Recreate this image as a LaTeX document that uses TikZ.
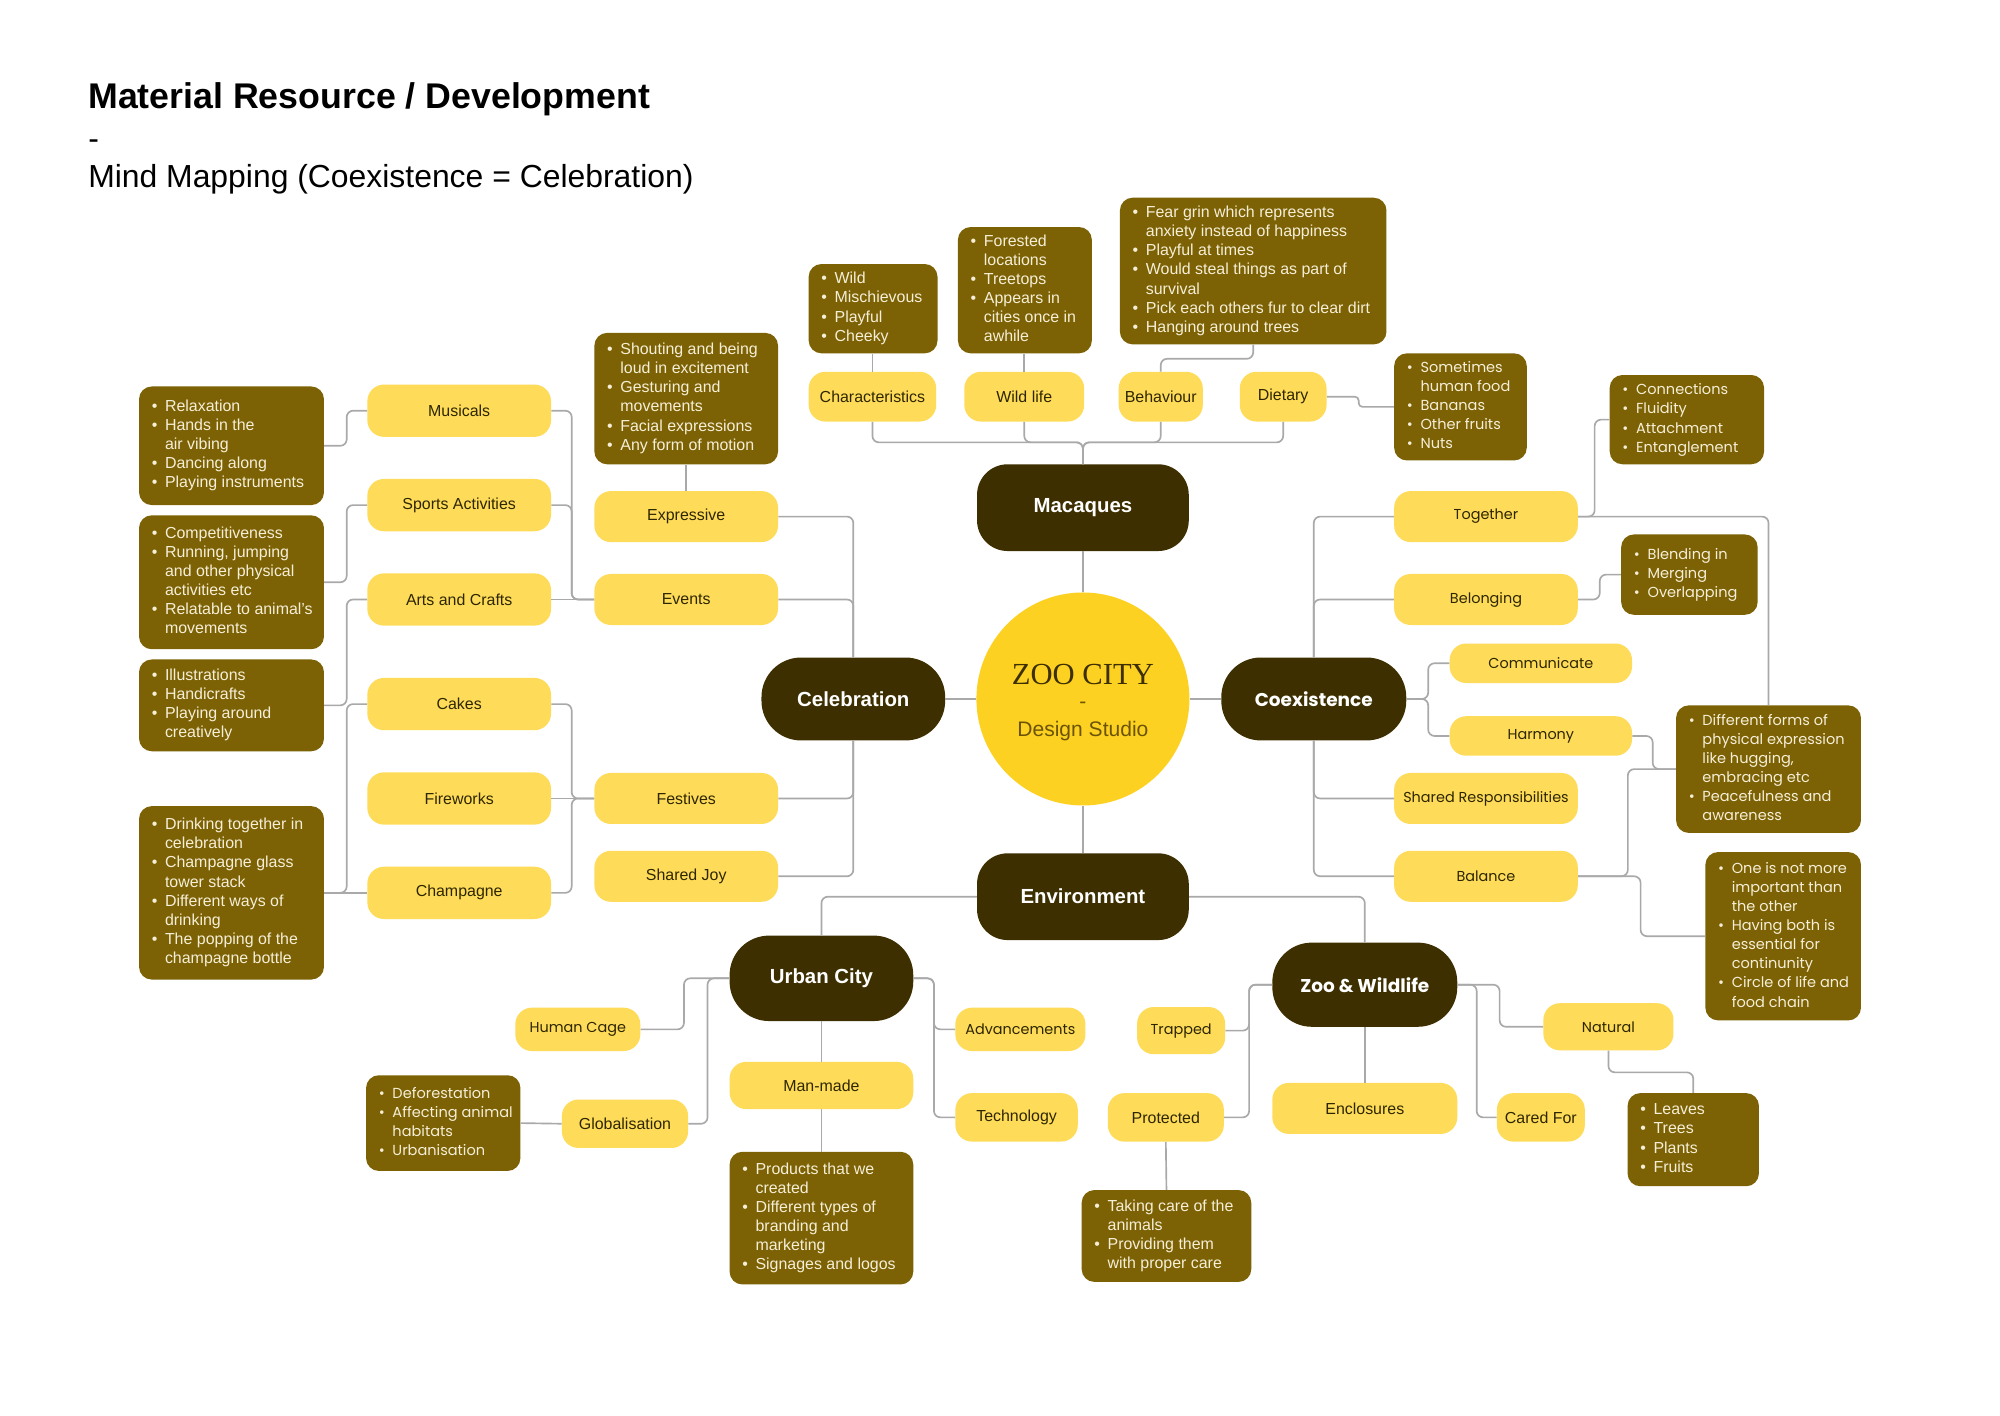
\documentclass[tikz,border=0pt]{standalone}
\usepackage{fontspec}
\setmainfont{Liberation Sans}
\newfontfamily\popf{Poppins}
\newfontfamily\serf{Liberation Serif}
\definecolor{darkc}{HTML}{3D2F00}
\definecolor{olivec}{HTML}{7C6204}
\definecolor{yelc}{HTML}{FEDC5A}
\definecolor{circc}{HTML}{FDD121}
\definecolor{lineg}{HTML}{A9A9A9}
\definecolor{ytext}{HTML}{2E2600}
\definecolor{btext}{HTML}{F6EFD8}
\definecolor{dstext}{HTML}{6B5408}
\newcommand{\bb}[2]{\hbox to #1pt{\hskip 10pt\begin{tabular}{@{}l@{\hskip 6pt}l@{}}#2\end{tabular}\hss}}
\newcommand{\B}{\textbullet&}
\begin{document}
\begin{tikzpicture}[x=1pt,y=-1pt,
 line/.style={draw=lineg,line width=1.3pt,rounded corners=5pt},
 dk/.style 2 args={fill=darkc,text=white,inner sep=0pt,minimum width=#1pt,minimum height=#2pt,font=\bfseries\fontsize{16}{19}\selectfont},
 yl/.style 2 args={fill=yelc,text=ytext,inner sep=0pt,rounded corners=13pt,minimum width=#1pt,minimum height=#2pt,font=\fontsize{12.5}{15}\selectfont},
 bul/.style 2 args={fill=olivec,text=btext,inner sep=0pt,rounded corners=10pt,minimum width=#1pt,minimum height=#2pt,font=\fontsize{12.5}{15}\selectfont},
 pp/.style={font=\popf\fontsize{11.3}{14}\selectfont},
 ppb/.style={font=\popf\fontsize{11.4}{15}\selectfont},
 ppd/.style={font=\popf\bfseries\fontsize{14.5}{17}\selectfont},
 ttl/.style={anchor=base west,inner sep=0pt,text=black}
]
\useasboundingbox (0,0) rectangle (1568,1110);
\fill[white] (0,0) rectangle (1568,1110);

% titles
\node[ttl,font=\bfseries\fontsize{28}{32}\selectfont] (t1) at (69,85) {Material Resource / Development};
\node[ttl,font=\fontsize{25}{30}\selectfont] (t2) at (69,117) {-};
\node[ttl,font=\fontsize{25}{30}\selectfont] (t3) at (69,147) {Mind Mapping (Coexistence = Celebration)};

% centre
\node[circle,fill=circc,minimum size=167pt,inner sep=0pt] (zc) at (849,548) {};
\node[inner sep=0pt,text=darkc,font=\serf\fontsize{24}{28}\selectfont] (zt1) at (849,529) {ZOO CITY};
\node[inner sep=0pt,text=dstext,font=\fontsize{16.5}{20}\selectfont] (zt2) at (849,553) {-};
\node[inner sep=0pt,text=dstext,font=\fontsize{16.5}{20}\selectfont] (zt3) at (849,573) {Design Studio};

% dark main nodes
\node[dk={166}{68},rounded corners=24pt] (mac) at (849,398) {Macaques};
\node[dk={144}{65},rounded corners=31pt] (cel) at (669,548) {Celebration};
\node[dk={145}{65},rounded corners=31pt,ppd] (coe) at (1030,548) {Coexistence};
\node[dk={166}{68},rounded corners=24pt] (env) at (849,703) {Environment};
\node[dk={144}{67},rounded corners=31pt] (urb) at (644,767) {Urban City};
\node[dk={145}{66},rounded corners=31pt,ppd] (zoo) at (1070,772) {Zoo \& Wildlife};

% celebration branch
\node[yl={144}{40}] (expr) at (538,405) {Expressive};
\node[yl={144}{40}] (evt) at (538,470) {Events};
\node[yl={144}{40}] (fest) at (538,626) {Festives};
\node[yl={144}{40}] (joy) at (538,687) {Shared Joy};
\node[yl={144}{41}] (mus) at (360,322) {Musicals};
\node[yl={144}{41}] (spo) at (360,396) {Sports Activities};
\node[yl={144}{41}] (art) at (360,470) {Arts and Crafts};
\node[yl={144}{41}] (cak) at (360,552) {Cakes};
\node[yl={144}{41}] (fir) at (360,626) {Fireworks};
\node[yl={144}{41}] (cha) at (360,700) {Champagne};

\node[bul={145}{93}] (bA) at (181.5,349.5) {\bb{145}{\B Relaxation\\ \B Hands in the\\ & air vibing\\ \B Dancing along\\ \B Playing instruments\\}};
\node[bul={145}{105}] (bB) at (181.5,456.5) {\bb{145}{\B Competitiveness\\ \B Running, jumping\\ & and other physical\\ & activities etc\\ \B Relatable to animal's\\ & movements\\}};
\node[bul={145}{72}] (bC) at (181.5,553) {\bb{145}{\B Illustrations\\ \B Handicrafts\\ \B Playing around\\ & creatively\\}};
\node[bul={145}{136}] (bD) at (181.5,700) {\bb{145}{\B Drinking together in\\ & celebration\\ \B Champagne glass\\ & tower stack\\ \B Different ways of\\ & drinking\\ \B The popping of the\\ & champagne bottle\\}};
\node[bul={144}{103}] (bE) at (538,312.5) {\bb{144}{\B Shouting and being\\ & loud in excitement\\ \B Gesturing and\\ & movements\\ \B Facial expressions\\ \B Any form of motion\\}};

% macaques branch
\node[yl={100}{39}] (chr) at (684,311) {Characteristics};
\node[yl={94}{39}] (wil) at (803,311) {Wild life};
\node[yl={66}{39}] (beh) at (910,311) {Behaviour};
\node[yl={68}{39}] (die) at (1006,311) {Dietary};
\node[bul={101}{70}] (bChr) at (684.5,242) {\bb{101}{\B Wild\\ \B Mischievous\\ \B Playful\\ \B Cheeky\\}};
\node[bul={105}{99}] (bWil) at (803.5,227.5) {\bb{105}{\B Forested\\ & locations\\ \B Treetops\\ \B Appears in\\ & cities once in\\ & awhile\\}};
\node[bul={209}{115}] (bBeh) at (982.5,212.5) {\bb{209}{\B Fear grin which represents\\ & anxiety instead of happiness\\ \B Playful at times\\ \B Would steal things as part of\\ & survival\\ \B Pick each others fur to clear dirt\\ \B Hanging around trees\\}};
\node[bul={104}{84},ppb] (bDie) at (1145,319) {\bb{104}{\B Sometimes\\ & human food\\ \B Bananas\\ \B Other fruits\\ \B Nuts\\}};

% coexistence branch
\node[yl={144}{40},pp] (tog) at (1165,405) {Together};
\node[yl={144}{40},pp] (bel) at (1165,470) {Belonging};
\node[yl={143}{31},pp] (com) at (1208,520) {Communicate};
\node[yl={143}{31},pp] (har) at (1208,577) {Harmony};
\node[yl={144}{40},pp] (shr) at (1165,626) {Shared Responsibilities};
\node[yl={144}{40},pp] (bal) at (1165,687) {Balance};
\node[bul={121}{70},ppb] (bTog) at (1322.5,329) {\bb{121}{\B Connections\\ \B Fluidity\\ \B Attachment\\ \B Entanglement\\}};
\node[bul={107}{63},ppb] (bBel) at (1324.5,450.5) {\bb{107}{\B Blending in\\ \B Merging\\ \B Overlapping\\}};
\node[bul={145}{100},ppb] (bHar) at (1386.5,603) {\bb{145}{\B Different forms of\\ & physical expression\\ & like hugging,\\ & embracing etc\\ \B Peacefulness and\\ & awareness\\}};
\node[bul={122}{132},ppb] (bBal) at (1398,734) {\bb{122}{\B One is not more\\ & important than\\ & the other\\ \B Having both is\\ & essential for\\ & continunity\\ \B Circle of life and\\ & food chain\\}};

% urban city branch
\node[yl={98}{34},pp] (hum) at (453,807) {Human Cage};
\node[yl={99}{38}] (glo) at (490,881) {Globalisation};
\node[yl={144}{37}] (man) at (644,851) {Man-made};
\node[yl={102}{34},pp] (adv) at (800,807) {Advancements};
\node[yl={96}{38}] (tec) at (797,876) {Technology};
\node[bul={121}{75},ppb] (bGlo) at (347.5,880.5) {\bb{121}{\B Deforestation\\ \B Affecting animal\\ & habitats\\ \B Urbanisation\\}};
\node[bul={144}{104}] (bMan) at (644,955) {\bb{144}{\B Products that we\\ & created\\ \B Different types of\\ & branding and\\ & marketing\\ \B Signages and logos\\}};

% zoo branch
\node[yl={69}{37},pp] (tra) at (926,808) {Trapped};
\node[yl={91}{38}] (pro) at (914,876) {Protected};
\node[yl={145}{40}] (enc) at (1070,869) {Enclosures};
\node[yl={69}{38}] (car) at (1208,876) {Cared For};
\node[yl={102}{37},pp] (nat) at (1261,805) {Natural};
\node[bul={133}{72}] (bPro) at (914.5,969) {\bb{133}{\B Taking care of the\\ & animals\\ \B Providing them\\ & with proper care\\}};
\node[bul={103}{73}] (bNat) at (1327.5,893.5) {\bb{103}{\B Leaves\\ \B Trees\\ \B Plants\\ \B Fruits\\}};

% ---------- connectors ----------
% centre
\draw[line] (mac.south) -- (zc.north);
\draw[line] (zc.south) -- (env.north);
\draw[line] (cel.east) -- (zc.west);
\draw[line] (coe.west) -- (zc.east);

% macaques
\draw[line] (mac.north) -- ++(0,-17) -| (chr.south);
\draw[line] (mac.north) -- ++(0,-17) -| (wil.south);
\draw[line] (mac.north) -- ++(0,-17) -| (beh.south);
\draw[line] (mac.north) -- ++(0,-17) -| (die.south);
\draw[line] (chr.north) -- (chr.north |- bChr.south);
\draw[line] (wil.north) -- (wil.north |- bWil.south);
\draw[line] (beh.north) -- ++(0,-10) -| (bBeh.south);
\draw[line,rounded corners=3pt] (die.east) -- ++(25,0) |- (bDie.west);

% celebration
\draw[line] (expr.east) -| (cel.north);
\draw[line] (evt.east) -| (cel.north);
\draw[line] (fest.east) -| (cel.south);
\draw[line] (joy.east) -| (cel.south);
\draw[line] (expr.north) -- (bE.south);
\draw[line] (mus.east) -- ++(16,0) |- (evt.west);
\draw[line] (spo.east) -- ++(16,0) |- (evt.west);
\draw[line] (art.east) -- (evt.west);
\draw[line] (cak.east) -- ++(16,0) |- (fest.west);
\draw[line] (fir.east) -- (fest.west);
\draw[line] (cha.east) -- ++(16,0) |- (fest.west);
\draw[line] (mus.west) -- ++(-16,0) |- (bA.east);
\draw[line] (spo.west) -- ++(-16,0) |- (bB.east);
\draw[line] (art.west) -- ++(-16,0) |- (bC.east);
\draw[line] (cak.west) -- ++(-16,0) |- (bD.east);
\draw[line] (cha.west) -- (bD.east);

% coexistence
\draw[line] (tog.west) -| (coe.north);
\draw[line] (bel.west) -| (coe.north);
\draw[line] (shr.west) -| (coe.south);
\draw[line] (bal.west) -| (coe.south);
\draw[line] (coe.east) -- ++(17,0) |- (com.west);
\draw[line] (coe.east) -- ++(17,0) |- (har.west);
\draw[line] (tog.east) -- ++(13,0) |- (bTog.west);
\draw[line] (tog.east) -| (bHar.north);
\draw[line] (bel.east) -- ++(17,0) |- (bBel.west);
\draw[line] (har.east) -- ++(16,0) |- (bHar.west);
\draw[line] (bal.east) -- ++(39,0) |- (bHar.west);
\draw[line] (bal.east) -- ++(49,0) |- (bBal.west);

% environment
\draw[line] (env.west) -| (urb.north);
\draw[line] (env.east) -| (zoo.north);

% urban
\draw[line] (hum.east) -- ++(34,0) |- (urb.west);
\draw[line] (glo.east) -- ++(15,0) |- (urb.west);
\draw[line] (urb.east) -- ++(16,0) |- (adv.west);
\draw[line] (urb.east) -- ++(16,0) |- (tec.west);
\draw[line] (urb.south) -- (man.north);
\draw[line] (man.south) -- (bMan.north);
\draw[line] (glo.west) -- (bGlo.east);

% zoo
\draw[line] (zoo.west) -- ++(-18,0) |- (tra.east);
\draw[line] (zoo.west) -- ++(-18,0) |- (pro.east);
\draw[line] (zoo.south) -- (enc.north);
\draw[line] (zoo.east) -- ++(15,0) |- (car.west);
\draw[line] (zoo.east) -- ++(33,0) |- (nat.west);
\draw[line] (nat.south) -- ++(0,17) -| (bNat.north);
\draw[line] (pro.south) -- (bPro.north);
\end{tikzpicture}
\end{document}
